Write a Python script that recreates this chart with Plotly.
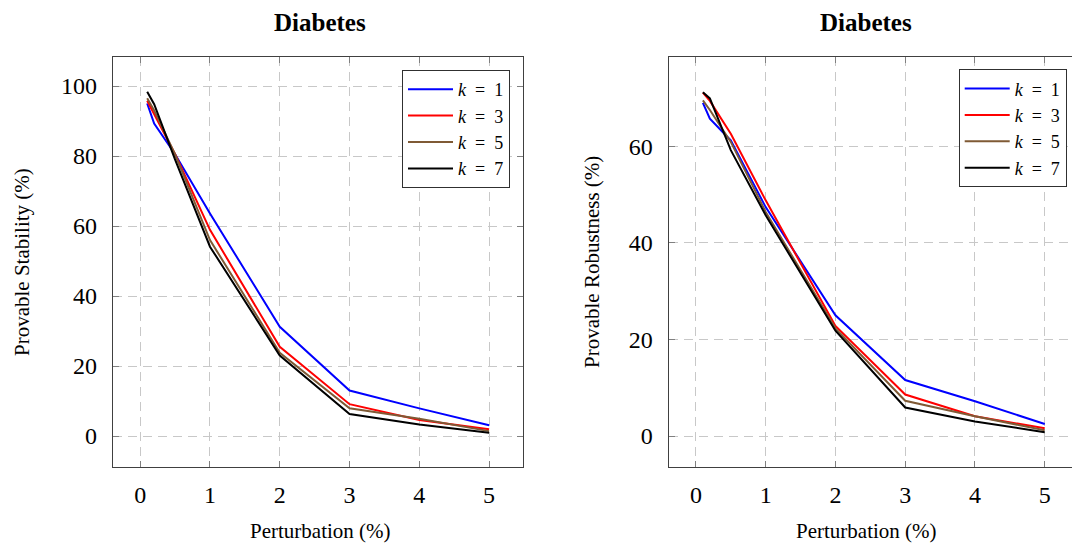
import plotly.graph_objects as go

# ---------------- data ----------------
x_vals = [0.1, 0.2, 0.5, 1, 2, 3, 4, 5]
labels = ["<i>k</i>\u2002=\u20021", "<i>k</i>\u2002=\u20023",
          "<i>k</i>\u2002=\u20025", "<i>k</i>\u2002=\u20027"]
colors = ["#0000ff", "#ff0000", "#7f5a35", "#000000"]

stab_k1 = [95.0, 89.3, 80.5, 63.6, 31.2, 13.0, 7.9, 3.1]
stab_k3 = [95.8, 92.0, 80.5, 58.9, 25.5, 9.1, 4.6, 1.9]
stab_k5 = [96.5, 93.0, 80.5, 56.0, 23.8, 7.9, 4.9, 1.4]
stab_k7 = [98.4, 94.8, 79.0, 54.1, 23.0, 6.3, 3.3, 0.9]

rob_k1 = [69.0, 65.7, 61.2, 47.4, 25.0, 11.6, 7.2, 2.5]
rob_k3 = [71.1, 69.4, 62.6, 48.8, 22.8, 8.6, 4.1, 1.6]
rob_k5 = [69.5, 67.5, 60.9, 46.4, 22.3, 7.3, 4.1, 1.2]
rob_k7 = [71.2, 69.9, 59.2, 45.7, 21.8, 5.9, 3.0, 0.8]

x_ticks = [0, 1, 2, 3, 4, 5]
stab_ticks = [0, 20, 40, 60, 80, 100]
rob_ticks = [0, 20, 40, 60]

W, H = 1072, 550
FONT = "Liberation Serif"

fig = go.Figure()
for name, col, ys in zip(labels, colors, [stab_k1, stab_k3, stab_k5, stab_k7]):
    fig.add_trace(go.Scatter(x=x_vals, y=ys, mode="lines", name=name,
                             line=dict(color=col, width=2),
                             xaxis="x", yaxis="y", legend="legend"))
for name, col, ys in zip(labels, colors, [rob_k1, rob_k3, rob_k5, rob_k7]):
    fig.add_trace(go.Scatter(x=x_vals, y=ys, mode="lines", name=name,
                             line=dict(color=col, width=2),
                             xaxis="x2", yaxis="y2", legend="legend2"))

def px_x(p):
    return p / W

def px_y(p):
    return 1 - p / H

axis_common = dict(
    showline=True, linecolor="#404040", linewidth=1.2,
    ticks="inside", ticklen=6, tickcolor="#808080", tickwidth=1,
    showgrid=True, gridcolor="#c8c8c8", gridwidth=1, griddash="9px,6px",
    zeroline=False, tickfont=dict(family=FONT, size=24, color="black"),
)

ydom = [px_y(466.7), px_y(57)]

legend_common = dict(xanchor="right", yanchor="top",
                     bordercolor="#303030", borderwidth=1, bgcolor="white",
                     font=dict(family=FONT, size=18, color="black"),
                     tracegroupgap=0, itemwidth=45)

fig.update_layout(
    width=W, height=H,
    margin=dict(l=0, r=0, t=0, b=0),
    paper_bgcolor="white", plot_bgcolor="white",
    font=dict(family=FONT, color="black"),
    xaxis=dict(domain=[px_x(113), px_x(523.3)], range=[-0.39, 5.49],
               tickvals=x_ticks, mirror="allticks", anchor="y",
               ticklabelstandoff=6, **axis_common),
    yaxis=dict(domain=ydom, range=[-8.77, 108.3],
               tickvals=stab_ticks, mirror="allticks", anchor="x",
               ticklabelstandoff=10, **axis_common),
    xaxis2=dict(domain=[px_x(668.7), 1.0], range=[-0.39, (W - 696) / 69.75],
                tickvals=x_ticks, mirror="allticks", anchor="y2",
                ticklabelstandoff=6, **axis_common),
    yaxis2=dict(domain=ydom, range=[-6.35, 78.48],
                tickvals=rob_ticks, mirror=False, anchor="x2",
                ticklabelstandoff=10, **axis_common),
    legend=dict(x=px_x(510), y=px_y(70), **legend_common),
    legend2=dict(x=px_x(1066.7), y=px_y(69.3), **legend_common),
    showlegend=True,
)

annots = [
    dict(text="<b>Diabetes</b>", x=px_x(320), y=px_y(22), size=25, angle=0),
    dict(text="<b>Diabetes</b>", x=px_x(866), y=px_y(22), size=25, angle=0),
    dict(text="Perturbation (%)", x=px_x(320), y=px_y(531), size=21, angle=0),
    dict(text="Perturbation (%)", x=px_x(866), y=px_y(531), size=21, angle=0),
    dict(text="Provable Stability (%)", x=px_x(22), y=px_y(262), size=21, angle=-90),
    dict(text="Provable Robustness (%)", x=px_x(592), y=px_y(262), size=21, angle=-90),
]
for a in annots:
    fig.add_annotation(text=a["text"], x=a["x"], y=a["y"], xref="paper", yref="paper",
                       xanchor="center", yanchor="middle", showarrow=False,
                       textangle=a["angle"], font=dict(family=FONT, size=a["size"], color="black"))

fig.write_html("out.html")
